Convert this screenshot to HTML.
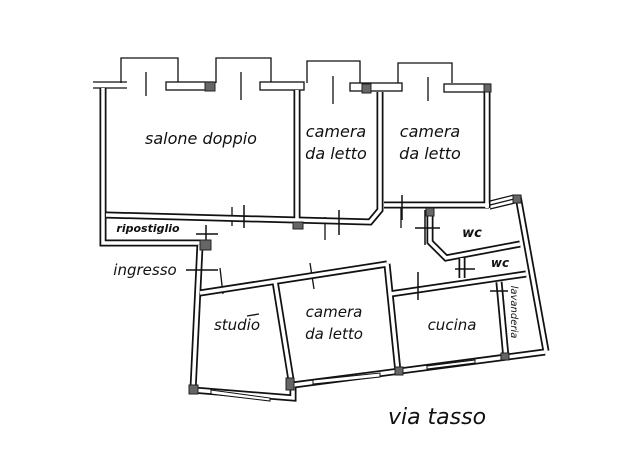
<!DOCTYPE html>
<html><head><style>
html,body{margin:0;padding:0;background:#fff;}
svg{display:block;}
text{font-family:"DejaVu Sans","Liberation Sans",sans-serif;font-style:italic;fill:#111;}
.w{fill:none;stroke:#111;stroke-width:7;stroke-linejoin:miter;}
.i{fill:none;stroke:#fff;stroke-width:3.5;stroke-linejoin:miter;}
.t{fill:none;stroke:#111;stroke-width:1.3;}
.g{fill:#666;stroke:#222;stroke-width:1;}
</style></head><body>
<svg width="640" height="452" viewBox="0 0 640 452">
<g class="t">
<path d="M121,83 V58 H178 V83"/>
<path d="M216,83 V58 H271 V83"/>
<path d="M307,83 V61 H360 V83"/>
<path d="M398,83 V63 H452 V83"/>
<path d="M93,82 H127 M93,88 H127"/>
<path d="M146,72 V96 M241,72 V100 M333,76 V104 M428,77 V101"/>
<path d="M401,207 V228 M232,207 V226 M325,217 V240"/>
<path d="M310,263 l4,26 M220,268 l3,26 M247,316 l12,-2"/>
<path d="M490,201 L514,195 M490,205 L514,199 M490,209 L515,203"/>
</g>
<g fill="#fff" stroke="#111" stroke-width="1.3">
<rect x="166" y="82" width="47" height="8"/>
<rect x="260" y="82" width="44" height="8"/>
<rect x="350" y="83" width="52" height="8"/>
<rect x="444" y="84" width="46" height="8"/>
</g>
<g id="walls">
<path class="w" d="M103,88 V243 H200"/>
<path class="w" d="M106,215 L370,222 L380,210 V92"/>
<path class="w" d="M297,90 V220"/>
<path class="w" d="M384,205 H489"/>
<path class="w" d="M487,90 V208"/>
<path class="w" d="M518,196 L546,351"/>
<path class="w" d="M200,245 L193,390 L293,398 L293,385 L545,352"/>
<path class="w" d="M200,293 L387,264"/>
<path class="w" d="M275,281 L292,386"/>
<path class="w" d="M387,264 L398,372"/>
<path class="w" d="M390,294 L526,274"/>
<path class="w" d="M430,210 V242 L446,258 L520,244"/>
<path class="w" d="M499,282 L506,358"/>
<path class="w" d="M462,258 V278"/>
<path class="i" d="M103,88 V243 H200"/>
<path class="i" d="M106,215 L370,222 L380,210 V92"/>
<path class="i" d="M297,90 V220"/>
<path class="i" d="M384,205 H489"/>
<path class="i" d="M487,90 V208"/>
<path class="i" d="M518,196 L546,351"/>
<path class="i" d="M200,245 L193,390 L293,398 L293,385 L545,352"/>
<path class="i" d="M200,293 L387,264"/>
<path class="i" d="M275,281 L292,386"/>
<path class="i" d="M387,264 L398,372"/>
<path class="i" d="M390,294 L526,274"/>
<path class="i" d="M430,210 V242 L446,258 L520,244"/>
<path class="i" d="M499,282 L506,358"/>
<path class="i" d="M462,258 V278"/>
</g>
<g stroke="#111" stroke-width="1.5" fill="none">
<path d="M244,205 V228 M339,210 V235 M402,195 V220"/>
<path d="M196,234 H218 M206,225 V243"/>
<path d="M186,270 H218"/>
<path d="M415,228 H440 M425,210 V245"/>
<path d="M455,269 H475"/>
<path d="M490,291 H508"/>
<path d="M418,272 V300"/>
</g>
<g class="g">
<rect x="205" y="82" width="10" height="9"/>
<rect x="362" y="84" width="9" height="9"/>
<rect x="484" y="84" width="7" height="8"/>
<rect x="293" y="222" width="10" height="7"/>
<rect x="200" y="240" width="11" height="10"/>
<rect x="426" y="208" width="8" height="8"/>
<rect x="513" y="195" width="8" height="8"/>
<rect x="286" y="378" width="8" height="12"/>
<rect x="189" y="385" width="9" height="9"/>
<rect x="395" y="367" width="8" height="8"/>
<rect x="501" y="353" width="8" height="7"/>
</g>
<g fill="#fff" stroke="#111" stroke-width="1">
<path d="M211,390 L270,398 L270,401 L211,394 Z"/>
<path d="M313,380 L380,373 L380,377 L313,384 Z"/>
<path d="M427,366 L475,360 L475,363 L427,369 Z"/>
</g>
<text x="201" y="144" font-size="16" text-anchor="middle">salone doppio</text>
<text x="336" y="137" font-size="16" text-anchor="middle">camera</text>
<text x="336" y="159" font-size="16" text-anchor="middle">da letto</text>
<text x="430" y="137" font-size="16" text-anchor="middle">camera</text>
<text x="430" y="159" font-size="16" text-anchor="middle">da letto</text>
<text x="148" y="232" font-size="11" font-weight="bold" text-anchor="middle">ripostiglio</text>
<text x="145" y="275" font-size="15" text-anchor="middle">ingresso</text>
<text x="472" y="237" font-size="13" font-weight="bold" text-anchor="middle">wc</text>
<text x="500" y="267" font-size="12" font-weight="bold" text-anchor="middle">wc</text>
<text x="237" y="330" font-size="15" text-anchor="middle">studio</text>
<text x="334" y="317" font-size="15" text-anchor="middle">camera</text>
<text x="334" y="339" font-size="15" text-anchor="middle">da letto</text>
<text x="452" y="330" font-size="15" text-anchor="middle">cucina</text>
<text x="0" y="0" font-size="10" text-anchor="middle" transform="translate(511,312) rotate(90)">lavanderia</text>
<text x="437" y="424" font-size="22" text-anchor="middle">via tasso</text>
</svg>
</body></html>
